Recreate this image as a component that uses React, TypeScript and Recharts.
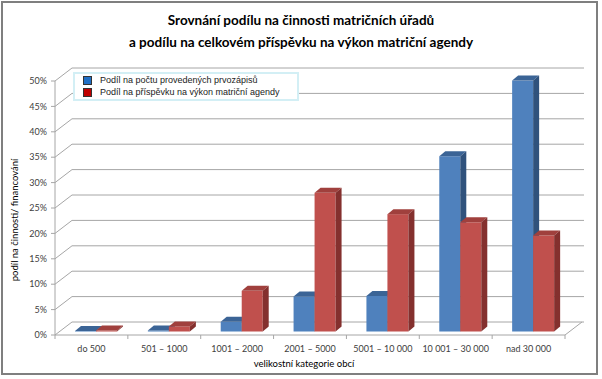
import React from 'react';
import { BarChart, Bar, XAxis, YAxis, CartesianGrid } from 'recharts';

const categories = ['do 500', '501 – 1000', '1001 – 2000', '2001 – 5000', '5001 – 10 000', '10 001 – 30 000', 'nad 30 000'];
const prvozapisy = [0.1, 0.2, 1.9, 6.9, 7.0, 34.5, 49.4];
const prispevek = [0.2, 1.0, 8.0, 27.3, 23.1, 21.5, 18.9];
const yTicks = [0, 5, 10, 15, 20, 25, 30, 35, 40, 45, 50];
const seriesNames = ['Podíl na počtu provedených prvozápisů', 'Podíl na příspěvku na výkon matriční agendy'];

const data = categories.map((name, i) => ({ name, prvozapisy: prvozapisy[i], prispevek: prispevek[i] }));

// oblique "3D" look: back wall offset and bar depth
const WALL_DX = 17;
const WALL_DY = 13;
const BAR_SHIFT_X = 5;
const BAR_SHIFT_Y = -3.5;
const DEPTH_X = 6;
const DEPTH_Y = 5;
const PLOT_BOTTOM = 335;
const PLOT_W = 510;
const GRID = '#a6a6a6';
const FONT = 'Lato';

const BLUE = { front: '#4F81BD', top: '#3B6496', side: '#30527C' };
const RED = { front: '#C0504D', top: '#A0403D', side: '#84302E' };

const Bar3D = (props: any) => {
  const { x, y, width, height, colors } = props;
  if (width == null || height == null) return null;
  const x0 = x + BAR_SHIFT_X;
  const y0 = y + BAR_SHIFT_Y;
  const x1 = x0 + width;
  const y1 = y0 + height;
  return (
    <g>
      <rect x={x0} y={y0} width={width} height={Math.max(height, 0.5)} fill={colors.front} />
      <polygon
        points={`${x0},${y0} ${x0 + DEPTH_X},${y0 - DEPTH_Y} ${x1 + DEPTH_X},${y0 - DEPTH_Y} ${x1},${y0}`}
        fill={colors.top}
      />
      <polygon
        points={`${x1},${y0} ${x1 + DEPTH_X},${y0 - DEPTH_Y} ${x1 + DEPTH_X},${y1 - DEPTH_Y} ${x1},${y1}`}
        fill={colors.side}
      />
    </g>
  );
};

const gridLine = (props: any) => {
  const { x1, x2, y1, index } = props;
  const isFloor = Math.abs(y1 - PLOT_BOTTOM) < 1;
  return (
    <g key={`grid-${index}-${y1}`}>
      <line x1={x1} y1={y1} x2={x1 + WALL_DX} y2={y1 - WALL_DY} stroke={GRID} />
      <line x1={x1 + WALL_DX} y1={y1 - WALL_DY} x2={x2 + WALL_DX + 2} y2={y1 - WALL_DY} stroke={GRID} />
      {isFloor && <line x1={x2} y1={y1} x2={x2 + WALL_DX} y2={y1 - WALL_DY} stroke={GRID} />}
    </g>
  );
};

const XTick = (props: any) => {
  const { x, y, payload, index } = props;
  const band = PLOT_W / categories.length;
  return (
    <g>
      {index === 0 && <line x1={x - band / 2} y1={y} x2={x - band / 2} y2={y + 4} stroke={GRID} />}
      <line x1={x + band / 2} y1={y} x2={x + band / 2} y2={y + 4} stroke={GRID} />
      <text x={x} y={y + 17} textAnchor="middle" fontSize={9} fill="#404040" fontFamily={FONT}>
        {payload.value}
      </text>
    </g>
  );
};

const YLabel = (props: any) => {
  const { viewBox } = props;
  const cy = viewBox.y + viewBox.height / 2 + 12;
  return (
    <text
      x={14}
      y={cy}
      transform={`rotate(-90, 14, ${cy})`}
      textAnchor="middle"
      dominantBaseline="central"
      fontFamily={FONT}
      fontSize={9.5}
      fill="#000"
    >
      podíl na činnosti/ financování
    </text>
  );
};

const LegendBox = () => {
  const cols = ['#1F6FC5', '#C00000'];
  return (
    <div
      style={{
        position: 'absolute',
        left: 73,
        top: 72,
        border: '2px solid #d3eff5',
        background: '#fff',
        width: 214,
        height: 23,
        padding: '1px 0 1px 8px',
        fontFamily: 'Liberation Sans, Arial, sans-serif',
        fontSize: 9,
        color: '#222',
        lineHeight: '11.5px',
      }}
    >
      {seriesNames.map((name, i) => (
        <div key={name} style={{ display: 'flex', alignItems: 'center' }}>
          <span
            style={{
              display: 'inline-block',
              width: 7,
              height: 7,
              background: cols[i],
              border: '1px solid #333',
              marginRight: 8,
            }}
          />
          <span>{name}</span>
        </div>
      ))}
    </div>
  );
};

export default function App() {
  return (
    <div style={{ position: 'absolute', left: 0, top: 0, width: 602, height: 379, background: '#fff' }}>
      <div
        style={{
          position: 'absolute',
          left: 1,
          top: 1,
          width: 597,
          height: 374,
          border: '2px solid #7f7f7f',
          boxSizing: 'border-box',
        }}
      />
      <div
        style={{
          position: 'absolute',
          left: 0,
          top: 9,
          width: 602,
          textAlign: 'center',
          fontFamily: FONT,
          fontWeight: 'bold',
          fontSize: 13.5,
          lineHeight: '22px',
          color: '#000',
        }}
      >
        Srovnání podílu na činnosti matričních úřadů
        <br />
        a podílu na celkovém příspěvku na výkon matriční agendy
      </div>
      <BarChart
        width={602}
        height={379}
        data={data}
        margin={{ top: 81, right: 37, bottom: 8, left: 0 }}
        barGap={0}
        barSize={21}
        style={{ position: 'absolute', left: 0, top: 0 }}
      >
        <CartesianGrid vertical={false} horizontal={gridLine} />
        <XAxis
          dataKey="name"
          height={36}
          axisLine={{ stroke: GRID }}
          tickLine={false}
          tickSize={0}
          tickMargin={0}
          tick={<XTick />}
          interval={0}
          label={{
            value: 'velikostní kategorie obcí',
            position: 'insideBottom',
            offset: 4,
            dx: -6,
            style: { fontFamily: FONT, fontSize: 9.5, fill: '#000' },
          }}
        />
        <YAxis
          width={55}
          domain={[0, 50]}
          ticks={yTicks}
          interval={0}
          tickFormatter={(v) => `${v}%`}
          axisLine={{ stroke: GRID }}
          tickLine={{ stroke: GRID }}
          tickSize={4}
          tickMargin={4}
          tick={{ fontFamily: FONT, fontSize: 9, fill: '#404040' }}
          label={<YLabel />}
        />
        <Bar
          dataKey="prvozapisy"
          name={seriesNames[0]}
          fill={BLUE.front}
          isAnimationActive={false}
          shape={(p: any) => <Bar3D {...p} colors={BLUE} />}
        />
        <Bar
          dataKey="prispevek"
          name={seriesNames[1]}
          fill={RED.front}
          isAnimationActive={false}
          shape={(p: any) => <Bar3D {...p} colors={RED} />}
        />
      </BarChart>
      <LegendBox />
    </div>
  );
}
